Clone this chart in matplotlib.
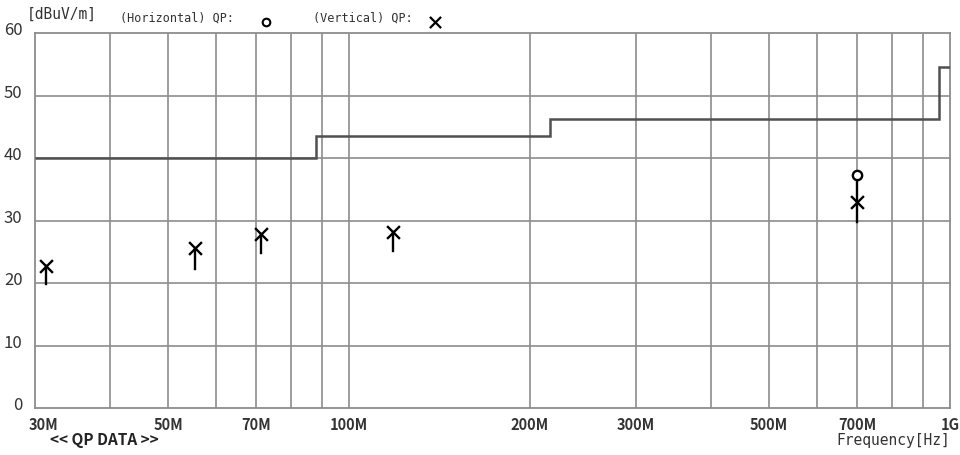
import matplotlib
matplotlib.use("Agg")
import matplotlib.pyplot as plt

# limit line (step edges in MHz and levels in dBuV/m)
limit_edges = [30, 88, 216, 960, 1000]
limit_levels = [40.0, 43.5, 46.3, 54.5]

# vertical polarisation QP readings
v_freq = [31.3, 55.3, 71.3, 118.3, 700]
v_qp = [22.7, 25.6, 27.8, 28.2, 33.0]
v_stick_low = [19.8, 22.2, 24.8, 25.1, 29.7]

# horizontal polarisation QP readings
h_freq = [700]
h_qp = [37.3]

x_ticks = [30, 50, 70, 100, 200, 300, 500, 700, 1000]
x_ticklabels = ["30M", "50M", "70M", "100M", "200M", "300M", "500M", "700M", "1G"]
x_grid = [40, 50, 60, 70, 80, 90, 100, 200, 300, 400, 500, 600, 700, 800, 900]
y_ticks = [0, 10, 20, 30, 40, 50, 60]

font = ["Noto Sans CJK JP", "DejaVu Sans"]
mono = ["DejaVu Sans Mono"]

fig = plt.figure(figsize=(9.6, 4.55), dpi=100)
ax = fig.add_axes([35 / 960, 1 - 408 / 455, 915 / 960, 375 / 455])
ax.set_xscale("log")
ax.set_xlim(30, 1000)
ax.set_ylim(0, 60)

grid_col = "#8c8c8c"
for f in x_grid:
    ax.axvline(f, color=grid_col, lw=1.2, zorder=1)
for y in y_ticks[1:-1]:
    ax.axhline(y, color=grid_col, lw=1.2, zorder=1)
for s in ax.spines.values():
    s.set_color(grid_col)
    s.set_linewidth(1.3)

# limit line
ax.stairs(limit_levels, limit_edges, color="#505050", lw=1.8, zorder=3, baseline=None)

# sticks under markers
for i in range(len(v_freq)):
    top = v_qp[i]
    if v_freq[i] in h_freq:
        top = h_qp[h_freq.index(v_freq[i])]
    ax.plot([v_freq[i], v_freq[i]], [v_stick_low[i], top], color="black", lw=1.7, zorder=4)

ax.scatter(v_freq, v_qp, marker="x", s=85, color="black", linewidths=1.7, zorder=5)
ax.scatter(h_freq, h_qp, marker="o", s=45, facecolor="white", edgecolor="black", linewidths=1.7, zorder=5)

ax.set_xticks([])
ax.set_yticks([])
ax.minorticks_off()

# tick labels
for f, lab in zip(x_ticks, x_ticklabels):
    ha = "center"
    xx = f
    if lab == "30M":
        ha = "left"
        xx = 29.3
    ax.text(xx, -1.5, lab, ha=ha, va="top", fontsize=10.5, fontweight="bold",
            family=font, color="#333333", clip_on=False)
for y in y_ticks:
    ax.text(28.6, y + 0.4, str(y), ha="right", va="center", fontsize=12,
            family=font, color="#333333", clip_on=False)

fig.text(62 / 960, 1 - 14 / 455, "[dBuV/m]", ha="center", va="center", fontsize=10.5, family=mono, color="#333333")
fig.text(120 / 960, 1 - 18 / 455, "(Horizontal) QP:", ha="left", va="center", fontsize=8.5, family=mono, color="#333333")
fig.text(313 / 960, 1 - 18 / 455, "(Vertical) QP:", ha="left", va="center", fontsize=8.5, family=mono, color="#333333")

hdr = fig.add_axes([0, 0, 1, 1], facecolor="none")
hdr.set_xlim(0, 960)
hdr.set_ylim(455, 0)
hdr.axis("off")
hdr.scatter([266], [22], marker="o", s=30, facecolor="white", edgecolor="black", linewidths=1.5)
hdr.scatter([435], [22], marker="x", s=65, color="black", linewidths=1.6)

fig.text(50 / 960, 1 - 440 / 455, "<< QP DATA >>", ha="left", va="center", fontsize=11, fontweight="bold",
         family=font, color="#222222")
fig.text(950 / 960, 1 - 440 / 455, "Frequency[Hz]", ha="right", va="center", fontsize=10.5, family=mono,
         color="#333333")

fig.savefig("out.png", dpi=100)
